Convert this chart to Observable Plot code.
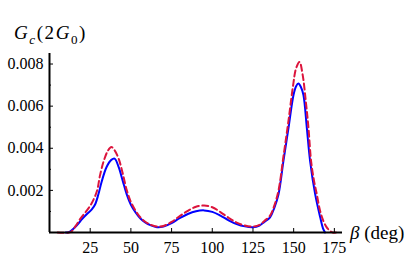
<!DOCTYPE html>
<html><head><meta charset="utf-8">
<script src="https://cdn.jsdelivr.net/npm/d3@7"></script>
<script src="https://cdn.jsdelivr.net/npm/@observablehq/plot@0.6"></script>
<style>
body{margin:0;background:#fff}
#wrap{position:relative;width:415px;height:263px;font-family:'Liberation Serif',serif;color:#000}
.lab{position:absolute;font-size:16px;line-height:16px;white-space:nowrap;transform:scale(1.19);transform-origin:0 0}
.lab sub{font-size:11px;line-height:0;vertical-align:-3.4px}
</style></head><body>
<div id="wrap"></div>
<script>
const xTicks = [25, 50, 75, 100, 125, 150, 175];
const yTicks = [0.002, 0.004, 0.006, 0.008];
const yMinorTicks = [0.001, 0.003, 0.005, 0.007];

const betaBlue = [10, 12, 15, 18, 20, 23, 26, 28, 30, 32, 35, 38, 40, 42.5, 45, 47.5, 50, 53, 56, 59, 62, 66, 70, 75, 80, 85, 90, 95, 100, 105, 110, 115, 120, 125, 129, 132, 135.5, 138, 140.7, 143.7, 146.8, 149.9, 151.5, 152.9, 154.5, 156, 158.1, 160.1, 163.2, 166.3, 168, 169.3];
const gBlue = [0, 0.00002, 0.0002, 0.00045, 0.00064, 0.00088, 0.0011, 0.00133, 0.0018, 0.0024, 0.0031, 0.00345, 0.00351, 0.0031, 0.00245, 0.0018, 0.00132, 0.00094, 0.00065, 0.00047, 0.00035, 0.00025, 0.00028, 0.00045, 0.00068, 0.00088, 0.00101, 0.00105, 0.00098, 0.0008, 0.00058, 0.0004, 0.00029, 0.00025, 0.00033, 0.0005, 0.00072, 0.00115, 0.00182, 0.00339, 0.00496, 0.00653, 0.00695, 0.00707, 0.0069, 0.00653, 0.00496, 0.00339, 0.00182, 0.00072, 0.0002, 0];

const betaRed = [5, 12, 13.5, 16, 19, 23, 26, 29.2, 31, 33.3, 36, 38, 40, 42.5, 45, 47.5, 50, 53, 56, 59, 62, 66, 70, 75, 80, 85, 90, 95, 100, 105, 110, 115, 120, 125, 129, 132, 135.5, 138, 140.7, 143.7, 146.8, 149.5, 151.5, 153.6, 155.5, 157.5, 159.1, 160.7, 162.4, 164.2, 166, 168, 170, 172, 174, 176];
const gRed = [0, 0, 0.00005, 0.0003, 0.00066, 0.00105, 0.0014, 0.00198, 0.0027, 0.00339, 0.0039, 0.00406, 0.0039, 0.0035, 0.0028, 0.002, 0.00145, 0.00102, 0.0007, 0.0005, 0.00037, 0.00028, 0.00031, 0.0005, 0.00078, 0.00103, 0.00122, 0.00128, 0.0012, 0.00097, 0.0007, 0.00047, 0.00033, 0.00028, 0.00036, 0.00055, 0.0008, 0.00125, 0.002, 0.0036, 0.0053, 0.0069, 0.0078, 0.0081, 0.0075, 0.0062, 0.00496, 0.00339, 0.0025, 0.00182, 0.0011, 0.0006, 0.00028, 0.0001, 0, 0];

const blue = betaBlue.map((b, i) => ({beta: b, g: gBlue[i]}));
const red = betaRed.map((b, i) => ({beta: b, g: gRed[i]}));

const chart = Plot.plot({
  width: 415, height: 263,
  marginLeft: 49, marginRight: 73, marginTop: 53, marginBottom: 31,
  x: {domain: [0, 180]},
  y: {domain: [0, 0.0085]},
  style: {fontFamily: "'Liberation Serif', serif", fontSize: "16px", color: "#000", background: "#fff", overflow: "visible"},
  marks: [
    Plot.axisX({ticks: xTicks, tickSize: 0, tickPadding: 9, label: null, tickFormat: d3.format("d")}),
    Plot.axisY({ticks: yTicks, tickSize: 0, tickPadding: 6, label: null, tickFormat: d3.format(".3f")}),
    Plot.line(blue, {x: "beta", y: "g", stroke: "#0000ff", strokeWidth: 2, curve: "catmull-rom"}),
    Plot.line(red, {x: "beta", y: "g", stroke: "#dc143c", strokeWidth: 2, strokeDasharray: "6,3.5", curve: "catmull-rom"}),
    Plot.ruleY([0], {stroke: "#000", strokeWidth: 2}),
    Plot.ruleX([0], {stroke: "#000", strokeWidth: 2}),
    Plot.ruleX(xTicks, {x: d => d, y1: 0, y2: 0, insetTop: -4, stroke: "#000", strokeWidth: 1}),
    Plot.ruleY(yTicks, {y: d => d, x1: 0, x2: 0, insetRight: -4, stroke: "#000", strokeWidth: 1}),
    Plot.ruleY(yMinorTicks, {y: d => d, x1: 0, x2: 0, insetRight: -2, stroke: "#000", strokeWidth: 1})
  ]
});
const wrap = document.getElementById("wrap");
wrap.appendChild(chart);
const yl = document.createElement("div");
yl.className = "lab";
yl.style.left = "14px"; yl.style.top = "24px"; yl.style.letterSpacing = "1.3px";
yl.innerHTML = "<i>G</i><sub><i>c</i></sub>(2<i>G</i><sub>0</sub>)";
wrap.appendChild(yl);
const xl = document.createElement("div");
xl.className = "lab";
xl.style.left = "350px"; xl.style.top = "224px";
xl.innerHTML = "<i>β</i> (deg)";
wrap.appendChild(xl);
</script>
</body></html>
